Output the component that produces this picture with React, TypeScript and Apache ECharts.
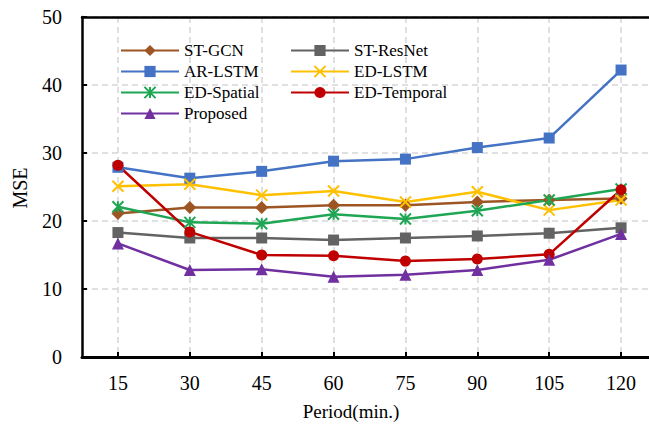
import React, { useEffect, useRef } from "react";
import * as echarts from "echarts";

const categories = ["15", "30", "45", "60", "75", "90", "105", "120"];
const stGcn = [21.1, 22.0, 22.0, 22.3, 22.3, 22.8, 23.1, 23.3];
const stResNet = [18.3, 17.5, 17.5, 17.2, 17.5, 17.8, 18.2, 19.0];
const arLstm = [27.9, 26.3, 27.3, 28.8, 29.1, 30.8, 32.2, 42.2];
const edLstm = [25.1, 25.4, 23.8, 24.4, 22.8, 24.3, 21.6, 23.1];
const edSpatial = [22.1, 19.8, 19.6, 21.0, 20.3, 21.5, 23.1, 24.7];
const edTemporal = [28.2, 18.4, 15.0, 14.9, 14.1, 14.4, 15.1, 24.6];
const proposed = [16.7, 12.8, 12.9, 11.8, 12.1, 12.8, 14.3, 18.1];

const FONT = "'Liberation Serif', 'Times New Roman', Times, serif";
const X_PATH = "path://M0,0L10,10M10,0L0,10";
const STAR_PATH = "path://M0,0L10,10M10,0L0,10M5,0L5,10";
const GRID_COLOR = "#d6d6d6";

const PLOT_LEFT = 82;
const PLOT_WIDTH = 575;
const BAND = PLOT_WIDTH / categories.length;

export default function App() {
  const ref = useRef<HTMLDivElement>(null);
  useEffect(() => {
    if (!ref.current) return;
    const chart = echarts.init(ref.current, undefined, { renderer: "svg" });
    const mk = (name: string, data: number[], color: string, symbol: string, size: number, stroke = false) => ({
      name,
      type: "line",
      data,
      symbol,
      symbolSize: size,
      z: 3,
      lineStyle: { color, width: 2.5 },
      itemStyle: stroke ? { color, borderColor: color, borderWidth: 2 } : { color, borderWidth: 0 },
      emphasis: { disabled: true },
    });
    const legendCommon = {
      orient: "vertical",
      top: 37,
      itemWidth: 58,
      itemHeight: 14,
      itemGap: 4,
      textStyle: { fontFamily: FONT, fontSize: 17, color: "#000" },
    };
    // vertical grid: helper grid whose value axis (0..135 min, step 15) puts lines at category centres
    const vColors = ["rgba(0,0,0,0)"];
    for (let i = 0; i < 9; i++) vColors.push(GRID_COLOR);
    chart.setOption({
      animation: false,
      backgroundColor: "#ffffff",
      grid: [
        { left: PLOT_LEFT, top: 17, width: PLOT_WIDTH, bottom: 73, outerBoundsMode: "none", containLabel: false },
        {
          left: PLOT_LEFT - BAND / 2,
          top: 17,
          width: BAND * (categories.length + 1),
          bottom: 73,
          outerBoundsMode: "none",
          containLabel: false,
          z: 0,
        },
      ],
      textStyle: { fontFamily: FONT },
      legend: [
        { ...legendCommon, left: 115, data: ["ST-GCN", "AR-LSTM", "ED-Spatial", "Proposed"] },
        { ...legendCommon, left: 285, data: ["ST-ResNet", "ED-LSTM", "ED-Temporal"] },
      ],
      xAxis: [
        {
          type: "category",
          gridIndex: 0,
          data: categories,
          boundaryGap: true,
          position: "bottom",
          z: 5,
          axisLine: { lineStyle: { color: "#000", width: 3 } },
          axisTick: { show: true, inside: true, alignWithLabel: true, length: 5, lineStyle: { color: "#000", width: 2 } },
          axisLabel: { fontFamily: FONT, fontSize: 20, color: "#000", margin: 16 },
          splitLine: { show: false },
        },
        {
          type: "category",
          gridIndex: 0,
          data: categories,
          position: "top",
          boundaryGap: true,
          axisLine: { show: true, lineStyle: { color: "#000", width: 2.5 } },
          axisTick: { show: false },
          axisLabel: { show: false },
          splitLine: { show: false },
        },
        {
          type: "value",
          gridIndex: 1,
          min: 0,
          max: 135,
          interval: 15,
          position: "bottom",
          axisLine: { show: false },
          axisTick: { show: false },
          axisLabel: { show: false },
          splitLine: { show: true, lineStyle: { color: vColors, type: [6, 4], width: 1.5 } },
        },
      ],
      yAxis: [
        {
          type: "value",
          gridIndex: 0,
          min: 0,
          max: 50,
          interval: 10,
          axisLine: { show: true, lineStyle: { color: "#000", width: 2.5 } },
          axisTick: { show: true, inside: true, length: 5, lineStyle: { color: "#000", width: 2 } },
          axisLabel: { fontFamily: FONT, fontSize: 20, color: "#000", margin: 20 },
          splitLine: { show: true, lineStyle: { color: GRID_COLOR, type: [6, 4], width: 1.5 } },
        },
        {
          type: "value",
          gridIndex: 1,
          min: 0,
          max: 1,
          show: false,
        },
      ],
      graphic: [
        {
          type: "text",
          x: 351,
          y: 411,
          style: { text: "Period(min.)", fontFamily: FONT, fontSize: 19, fill: "#000", align: "center", verticalAlign: "middle" },
        },
        {
          type: "text",
          x: 20,
          y: 188,
          rotation: Math.PI / 2,
          style: { text: "MSE", fontFamily: FONT, fontSize: 20, fill: "#000", align: "center", verticalAlign: "middle" },
        },
      ],
      series: [
        {
          name: "vgridHelper",
          type: "line",
          xAxisIndex: 2,
          yAxisIndex: 1,
          data: [],
          symbol: "none",
          silent: true,
          z: 0,
        },
        mk("ST-GCN", stGcn, "#9E5524", "diamond", 13),
        mk("ST-ResNet", stResNet, "#636363", "rect", 11),
        mk("AR-LSTM", arLstm, "#4472C4", "rect", 11),
        mk("ED-LSTM", edLstm, "#FFC000", X_PATH, 11, true),
        mk("ED-Spatial", edSpatial, "#1FA654", STAR_PATH, 11, true),
        mk("ED-Temporal", edTemporal, "#C00000", "circle", 11),
        mk("Proposed", proposed, "#7030A0", "triangle", 12),
      ],
    });
    return () => chart.dispose();
  }, []);
  return <div ref={ref} style={{ position: "fixed", left: 0, top: 0, width: 649, height: 430 }} />;
}
